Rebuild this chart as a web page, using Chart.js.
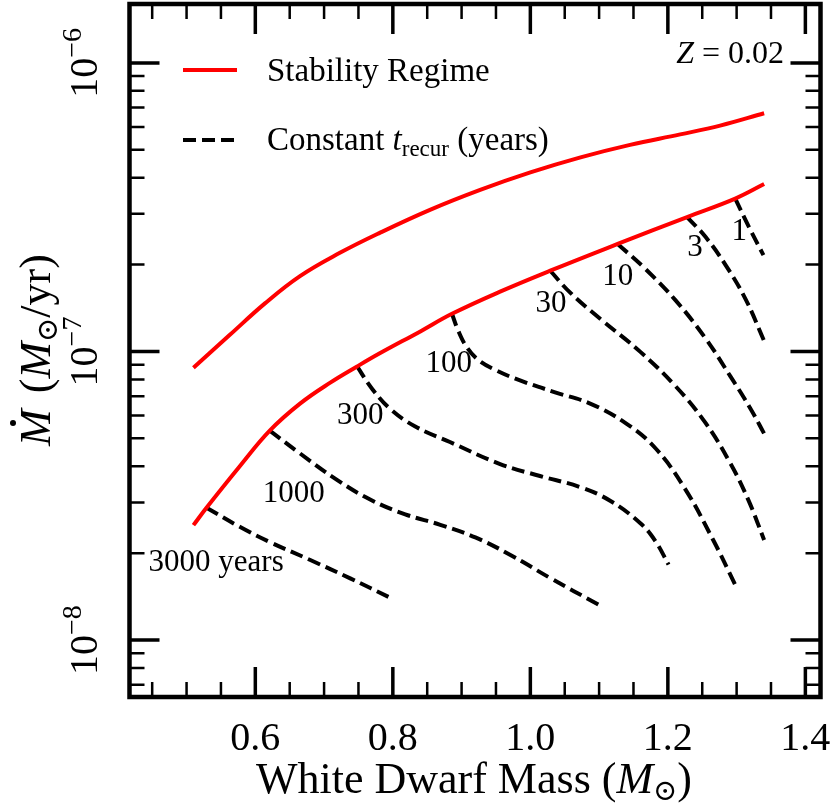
<!DOCTYPE html>
<html>
<head>
<meta charset="utf-8">
<script src="https://cdn.jsdelivr.net/npm/chart.js@4.4.0/dist/chart.umd.min.js"></script>
<style>
  html, body { margin: 0; padding: 0; background: #fff; }
</style>
</head>
<body>
<canvas id="chart" width="830" height="808"></canvas>
<script>
const SERIF = '"Liberation Serif", "DejaVu Serif", serif';

// stability regime boundaries (white dwarf mass, accretion rate in Msun/yr)
const upperMass = [0.510, 0.563, 0.614, 0.665, 0.723, 0.781, 0.854, 0.927, 1.000, 1.073, 1.145, 1.218, 1.276, 1.340];
const upperRate = [8.78e-8, 1.142e-7, 1.468e-7, 1.825e-7, 2.197e-7, 2.577e-7, 3.096e-7, 3.631e-7, 4.175e-7, 4.707e-7, 5.198e-7, 5.652e-7, 6.063e-7, 6.690e-7];
const lowerMass = [0.510, 0.529, 0.578, 0.621, 0.665, 0.709, 0.748, 0.781, 0.840, 0.886, 0.956, 1.029, 1.127, 1.228, 1.298, 1.340];
const lowerRate = [2.502e-8, 2.875e-8, 4.02e-8, 5.318e-8, 6.596e-8, 7.798e-8, 8.873e-8, 9.852e-8, 1.174e-7, 1.351e-7, 1.612e-7, 1.905e-7, 2.358e-7, 2.924e-7, 3.387e-7, 3.803e-7];

// constant recurrence time tracks
const t3000Mass = [0.529, 0.578, 0.621, 0.680, 0.738, 0.798];
const t3000Rate = [2.875e-8, 2.464e-8, 2.187e-8, 1.894e-8, 1.636e-8, 1.395e-8];
const t1000Mass = [0.621, 0.665, 0.716, 0.767, 0.818, 0.869, 0.920, 0.971, 1.029, 1.099];
const t1000Rate = [5.318e-8, 4.434e-8, 3.626e-8, 3.068e-8, 2.728e-8, 2.509e-8, 2.269e-8, 1.973e-8, 1.640e-8, 1.328e-8];
const t300Mass = [0.748, 0.770, 0.796, 0.832, 0.883, 0.956, 1.014, 1.073, 1.116, 1.160, 1.182, 1.201];
const t300Rate = [8.873e-8, 7.42e-8, 6.333e-8, 5.508e-8, 4.857e-8, 4.074e-8, 3.703e-8, 3.386e-8, 3.04e-8, 2.541e-8, 2.201e-8, 1.826e-8];
const t100Mass = [0.886, 0.895, 0.907, 0.924, 0.949, 0.985, 1.036, 1.087, 1.138, 1.182, 1.225, 1.265, 1.298];
const t100Rate = [1.351e-7, 1.182e-7, 1.040e-7, 9.36e-8, 8.63e-8, 7.94e-8, 7.22e-8, 6.60e-8, 5.66e-8, 4.62e-8, 3.343e-8, 2.244e-8, 1.555e-8];
const t30Mass = [1.029, 1.058, 1.102, 1.160, 1.211, 1.254, 1.291, 1.317, 1.340];
const t30Rate = [1.905e-7, 1.599e-7, 1.296e-7, 9.97e-8, 7.59e-8, 5.69e-8, 4.094e-8, 3.06e-8, 2.224e-8];
const t10Mass = [1.127, 1.167, 1.211, 1.254, 1.291, 1.320, 1.340];
const t10Rate = [2.358e-7, 1.936e-7, 1.506e-7, 1.117e-7, 8.2e-8, 6.35e-8, 5.194e-8];
const t3Mass = [1.228, 1.255, 1.284, 1.313, 1.340];
const t3Rate = [2.924e-7, 2.491e-7, 1.993e-7, 1.519e-7, 1.088e-7];
const t1Mass = [1.298, 1.318, 1.339];
const t1Rate = [3.387e-7, 2.697e-7, 2.157e-7];

// curve labels and where they sit (data coords)
const recurNames = ['3000 years', '1000', '300', '100', '30', '10', '3', '1'];
const labelMass = [0.543, 0.656, 0.7526, 0.8815, 1.030, 1.127, 1.2395, 1.3039];
const labelRate = [1.848e-8, 3.222e-8, 5.97e-8, 9.07e-8, 1.467e-7, 1.814e-7, 2.28e-7, 2.597e-7];

// axis ticks
const xMajor = [0.6, 0.8, 1.0, 1.2, 1.4];
const xTickText = ['0.6', '0.8', '1.0', '1.2', '1.4'];
const yMajorExp = [-8, -7, -6];

function pts(xs, ys) {
	return xs.map((x, i) => ({x: x, y: ys[i]}));
}

const red = '#ff0000';
const datasets = [
	{label: 'Stability Regime', data: pts(upperMass, upperRate), borderColor: red, borderWidth: 4},
	{label: 'lower', data: pts(lowerMass, lowerRate), borderColor: red, borderWidth: 4},
];
const tracks = [
	[t3000Mass, t3000Rate], [t1000Mass, t1000Rate], [t300Mass, t300Rate], [t100Mass, t100Rate],
	[t30Mass, t30Rate], [t10Mass, t10Rate], [t3Mass, t3Rate], [t1Mass, t1Rate],
];
tracks.forEach((t, i) => {
	datasets.push({
		label: recurNames[i],
		data: pts(t[0], t[1]),
		borderColor: '#000',
		borderWidth: 4,
		borderDash: [13, 6],
		borderCapStyle: 'butt',
	});
});

// rich text helpers
function partsWidth(ctx, parts) {
	let w = 0;
	parts.forEach(p => { ctx.font = p.font; w += ctx.measureText(p.t).width + (p.gap || 0); });
	return w;
}
function drawParts(ctx, parts, x, y, align) {
	const w = partsWidth(ctx, parts);
	let cx = align === 'center' ? x - w / 2 : (align === 'right' ? x - w : x);
	const pos = [];
	parts.forEach(p => {
		ctx.font = p.font;
		ctx.fillText(p.t, cx, y + (p.dy || 0));
		pos.push(cx);
		cx += ctx.measureText(p.t).width + (p.gap || 0);
	});
	return pos;
}

const framePlugin = {
	id: 'frame',
	afterDatasetsDraw(chart) {
		const ctx = chart.ctx;
		const a = chart.chartArea;
		const xs = chart.scales.x, ys = chart.scales.y;
		ctx.save();
		ctx.strokeStyle = '#000';
		ctx.lineCap = 'butt';

		function tickX(v, len, lw) {
			const px = xs.getPixelForValue(v);
			ctx.lineWidth = lw;
			ctx.beginPath();
			ctx.moveTo(px, a.bottom); ctx.lineTo(px, a.bottom - len);
			ctx.moveTo(px, a.top); ctx.lineTo(px, a.top + len);
			ctx.stroke();
		}
		function tickY(v, len, lw) {
			const py = ys.getPixelForValue(v);
			ctx.lineWidth = lw;
			ctx.beginPath();
			ctx.moveTo(a.left, py); ctx.lineTo(a.left + len, py);
			ctx.moveTo(a.right, py); ctx.lineTo(a.right - len, py);
			ctx.stroke();
		}

		for (let i = 9; i <= 28; i++) {
			if (i % 4 === 0) tickX(i * 0.05, 30, 3.5);
			else tickX(i * 0.05, 15, 2.5);
		}
		for (let e = -9; e <= -6; e++) {
			for (let m = 1; m <= 9; m++) {
				const v = m * Math.pow(10, e);
				if (v < ys.min || v > ys.max) continue;
				if (m === 1) tickY(v, 30, 3.5);
				else tickY(v, 15, 2.5);
			}
		}

		ctx.lineWidth = 4.5;
		ctx.strokeRect(a.left, a.top, a.right - a.left, a.bottom - a.top);
		ctx.restore();
	}
};

const textPlugin = {
	id: 'texts',
	afterDraw(chart) {
		const ctx = chart.ctx;
		const xs = chart.scales.x, ys = chart.scales.y;
		const f = (size, style) => (style ? style + ' ' : '') + size + 'px ' + SERIF;
		ctx.save();
		ctx.fillStyle = '#000';
		ctx.textBaseline = 'alphabetic';

		// x tick labels
		ctx.textAlign = 'center';
		ctx.font = f(40);
		xMajor.forEach((v, i) => {
			ctx.fillText(xTickText[i], xs.getPixelForValue(v), 750);
		});
		ctx.textAlign = 'left';

		// x title
		drawParts(ctx, [
			{t: 'White Dwarf Mass (', font: f(44)},
			{t: 'M', font: f(44, 'italic')},
			{t: '\u2299', font: f(29), dy: 7},
			{t: ')', font: f(44)},
		], 474, 793, 'center');

		// y tick labels, rotated
		yMajorExp.forEach(e => {
			const py = ys.getPixelForValue(Math.pow(10, e));
			ctx.save();
			ctx.translate(97, py);
			ctx.rotate(-Math.PI / 2);
			drawParts(ctx, [
				{t: '10', font: f(40)},
				{t: '\u2212' + String(-e), font: f(28), dy: -16},
			], 0, 0, 'center');
			ctx.restore();
		});

		// y title, rotated
		ctx.save();
		ctx.translate(50, 350);
		ctx.rotate(-Math.PI / 2);
		const yParts = [
			{t: 'M', font: f(44, 'italic'), gap: 16},
			{t: '(', font: f(44)},
			{t: 'M', font: f(44, 'italic')},
			{t: '\u2299', font: f(29), dy: 7},
			{t: '/yr)', font: f(44)},
		];
		const pos = drawParts(ctx, yParts, 0, 0, 'center');
		ctx.beginPath();
		ctx.arc(pos[0] + 23, -37, 3, 0, Math.PI * 2);
		ctx.fill();
		ctx.restore();

		// legend
		ctx.lineWidth = 4;
		ctx.strokeStyle = red;
		ctx.beginPath(); ctx.moveTo(183, 70); ctx.lineTo(237, 70); ctx.stroke();
		ctx.strokeStyle = '#000';
		ctx.setLineDash([13, 6]);
		ctx.beginPath(); ctx.moveTo(183, 140); ctx.lineTo(237, 140); ctx.stroke();
		ctx.setLineDash([]);
		ctx.font = f(33);
		ctx.fillText('Stability Regime', 267, 81);
		drawParts(ctx, [
			{t: 'Constant ', font: f(33)},
			{t: 't', font: f(33, 'italic')},
			{t: 'recur', font: f(23), dy: 6},
			{t: ' (years)', font: f(33)},
		], 267, 150, 'left');

		// metallicity note
		drawParts(ctx, [
			{t: 'Z', font: f(32, 'italic')},
			{t: ' = 0.02', font: f(32)},
		], 784, 63, 'right');

		// curve labels
		ctx.font = f(31);
		ctx.textAlign = 'center';
		ctx.textBaseline = 'middle';
		recurNames.forEach((name, i) => {
			ctx.fillText(name, xs.getPixelForValue(labelMass[i]), ys.getPixelForValue(labelRate[i]));
		});
		ctx.restore();
	}
};

const chart = new Chart(document.getElementById('chart'), {
	type: 'line',
	data: {datasets: datasets},
	options: {
		responsive: false,
		devicePixelRatio: 1,
		animation: false,
		layout: {padding: {left: 129.5, right: 9.5, top: 4, bottom: 111}},
		plugins: {legend: {display: false}, tooltip: {enabled: false}},
		elements: {
			point: {radius: 0},
			line: {tension: 0.4, fill: false},
		},
		scales: {
			x: {type: 'linear', min: 0.417, max: 1.422, display: false},
			y: {type: 'logarithmic', min: 6.35e-9, max: 1.6e-6, display: false},
		},
	},
	plugins: [framePlugin, textPlugin],
});
</script>
</body>
</html>
